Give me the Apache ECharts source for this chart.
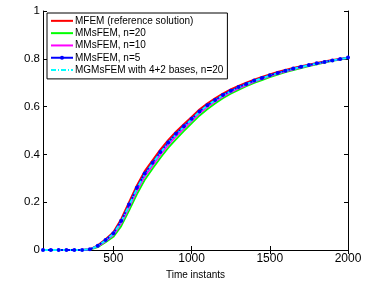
<!DOCTYPE html>
<html><head><meta charset="utf-8">
<script src="https://cdn.jsdelivr.net/npm/echarts@6/dist/echarts.min.js"></script>
<style>html,body{margin:0;padding:0;background:#fff}#c{width:379px;height:290px}</style>
</head><body><div id="c"></div>
<script>
var timeInstants = [50,100,150,200,250,300,350,400,450,500,550,600,650,700,750,800,850,900,950,1000,1050,1100,1150,1200,1250,1300,1350,1400,1450,1500,1550,1600,1650,1700,1750,1800,1850,1900,1950,2000];
var mfem   = [0,0,0,0,0,0,0.003,0.02,0.045,0.075,0.13,0.20,0.27,0.33,0.375,0.42,0.46,0.495,0.527,0.557,0.588,0.613,0.635,0.655,0.672,0.687,0.70,0.713,0.724,0.735,0.745,0.754,0.762,0.769,0.776,0.783,0.789,0.795,0.80,0.806];
var msN20  = [0,0,0,0,0,0,0.001,0.012,0.032,0.055,0.10,0.165,0.233,0.293,0.34,0.385,0.427,0.463,0.497,0.53,0.562,0.589,0.613,0.635,0.654,0.670,0.685,0.699,0.711,0.723,0.734,0.744,0.753,0.761,0.769,0.777,0.784,0.791,0.797,0.803];
var msN10  = [0,0,0,0,0,0,0.002,0.015,0.037,0.063,0.112,0.178,0.247,0.307,0.353,0.398,0.439,0.475,0.508,0.54,0.572,0.598,0.621,0.642,0.66,0.676,0.690,0.704,0.716,0.727,0.738,0.747,0.756,0.764,0.771,0.779,0.786,0.792,0.798,0.804];
var msN5   = [0,0,0,0,0,0,0.003,0.018,0.042,0.070,0.122,0.19,0.26,0.32,0.365,0.41,0.45,0.486,0.518,0.549,0.58,0.606,0.628,0.649,0.666,0.682,0.695,0.709,0.72,0.731,0.741,0.75,0.759,0.767,0.774,0.781,0.787,0.793,0.799,0.805];
var mgms   = [0,0,0,0,0,0,0.003,0.017,0.040,0.068,0.118,0.186,0.256,0.316,0.362,0.407,0.447,0.483,0.515,0.546,0.578,0.604,0.626,0.647,0.664,0.68,0.694,0.707,0.719,0.73,0.74,0.749,0.758,0.766,0.773,0.78,0.787,0.793,0.799,0.805];
var seriesNames = ['MFEM (reference solution)','MMsFEM, n=20','MMsFEM, n=10','MMsFEM, n=5','MGMsFEM with 4+2 bases, n=20'];
var xTicks = [500,1000,1500,2000];
var yTicks = [0,0.2,0.4,0.6,0.8,1];

function pairs(ys){ return timeInstants.map(function(t,i){return [t, ys[i]];}); }
var F = 'Liberation Sans, Arial, sans-serif';
var chart = echarts.init(document.getElementById('c'));
var axisLineS = {show:true, lineStyle:{color:'#000', width:1}};
var hidden = {color:'rgba(0,0,0,0)', borderColor:'rgba(0,0,0,0)', borderWidth:0};
chart.setOption({
  animation:false,
  grid:{left:43, right:31, top:11, bottom:40},
  legend:{
    left:47, top:13, orient:'vertical', itemWidth:22, itemHeight:5, itemGap:0.6,
    padding:[2,4,3,3], borderColor:'#000', borderWidth:1, backgroundColor:'#fff',
    textStyle:{fontFamily:F, fontSize:10, color:'#000', padding:[0,0,0,-3], lineHeight:11.7},
    data: [
      {name:seriesNames[0], itemStyle:hidden},
      {name:seriesNames[1], itemStyle:hidden},
      {name:seriesNames[2], itemStyle:hidden},
      {name:seriesNames[3]},
      {name:seriesNames[4], itemStyle:hidden}
    ]
  },
  xAxis:[
    {type:'value', min:50, max:2000, position:'bottom',
     name:'Time instants', nameLocation:'middle', nameGap:15,
     nameTextStyle:{fontFamily:F, fontSize:10, color:'#000'},
     axisLine:axisLineS, splitLine:{show:false},
     axisTick:{inside:true, length:4, customValues:xTicks, lineStyle:{color:'#000'}},
     axisLabel:{customValues:xTicks, fontFamily:F, fontSize:12, color:'#000', margin:3, formatter:function(v){return String(v);}}},
    {type:'value', min:50, max:2000, position:'top',
     axisLine:axisLineS, splitLine:{show:false},
     axisTick:{inside:true, length:4, customValues:xTicks, lineStyle:{color:'#000'}},
     axisLabel:{show:false}}
  ],
  yAxis:[
    {type:'value', min:0, max:1, interval:0.2, position:'left',
     axisLine:axisLineS, splitLine:{show:false},
     axisTick:{inside:true, length:4, lineStyle:{color:'#000'}},
     axisLabel:{fontFamily:F, fontSize:11.5, color:'#000', margin:3, formatter:function(v){return String(+v.toFixed(1));}}},
    {type:'value', min:0, max:1, interval:0.2, position:'right',
     axisLine:axisLineS, splitLine:{show:false},
     axisTick:{inside:true, length:4, lineStyle:{color:'#000'}},
     axisLabel:{show:false}}
  ],
  series:[
    {name:seriesNames[0], type:'line', data:pairs(mfem), symbol:'none', lineStyle:{color:'#ff0000', width:1.8}, itemStyle:{color:'#ff0000'}},
    {name:seriesNames[1], type:'line', data:pairs(msN20), symbol:'none', lineStyle:{color:'#00ff00', width:1.8}, itemStyle:{color:'#00ff00'}},
    {name:seriesNames[2], type:'line', data:pairs(msN10), symbol:'none', lineStyle:{color:'#ff00ff', width:1.8}, itemStyle:{color:'#ff00ff'}},
    {name:seriesNames[3], type:'line', data:pairs(msN5), symbol:'circle', symbolSize:4, lineStyle:{color:'#0000ff', width:1.8}, itemStyle:{color:'#0000ff'}},
    {name:seriesNames[4], type:'line', data:pairs(mgms), symbol:'none', lineStyle:{color:'#00ffff', width:1.8, type:[5,2,1,2]}, itemStyle:{color:'#00ffff'}}
  ]
});
</script></body></html>
